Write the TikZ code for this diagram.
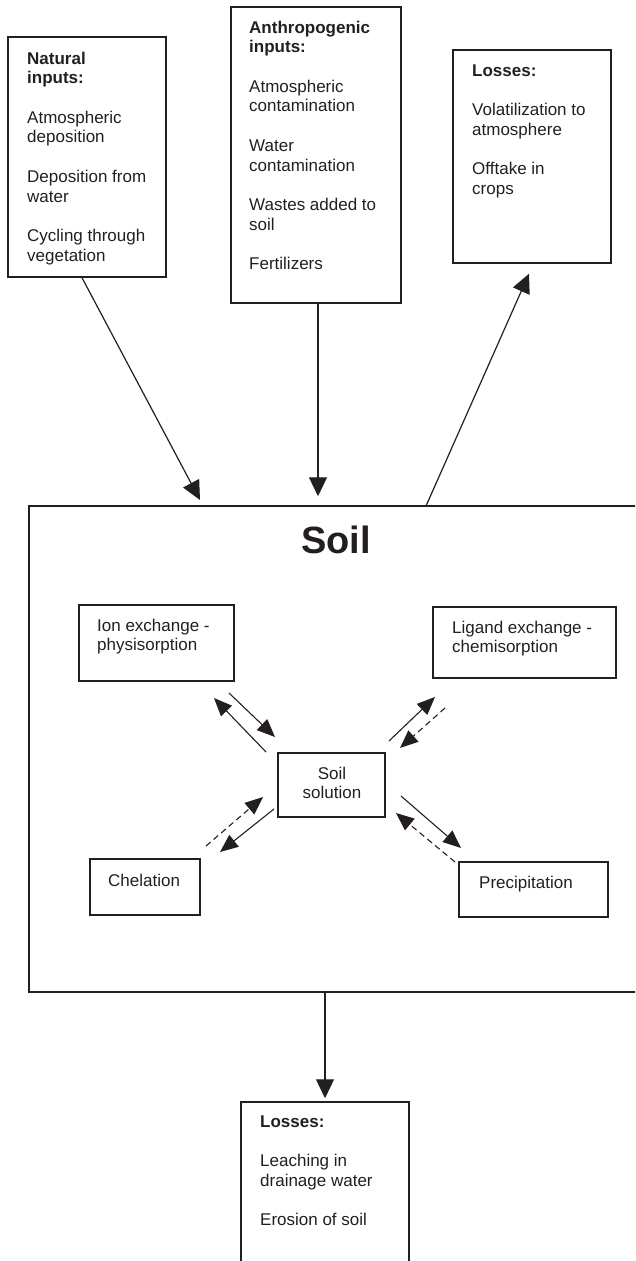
\documentclass[tikz,border=0pt]{standalone}
\usepackage{fontspec}
\setmainfont{Liberation Sans}
\usetikzlibrary{arrows.meta,calc}
\definecolor{ink}{RGB}{35,31,32}
% one typeset line, a blank line between entries, and a block whose baseline is its first line
\newcommand\rowline[1]{\hbox{#1}}
\newcommand\parabreak{\vskip 20pt}
\newcommand\textblock[1]{\vtop{\fontsize{17}{19.6}\selectfont #1}}
\begin{document}
\begin{tikzpicture}[x=1pt,y=-1pt,
  panel/.style={draw=ink, line width=1.5pt, rectangle, inner sep=0pt},
  boxtext/.style={anchor=base west, inner sep=0pt, text=ink},
  flow/.style={draw=ink, line width=1.2pt, -{Triangle[length=19pt,width=18pt]}},
  exch/.style={draw=ink, line width=1.1pt, -{Triangle[length=18pt,width=15pt]}},
  exchback/.style={exch, dash pattern=on 6pt off 4pt},
]
\useasboundingbox (0,0) rectangle (635,1261);
\clip (0,0) rectangle (635,1261);

% ---- outer boxes ----
\node[panel, minimum width=158pt, minimum height=240pt] (nat)   at (87,157)    {};
\node[panel, minimum width=170pt, minimum height=296pt] (ant)   at (316,155)   {};
\node[panel, minimum width=158pt, minimum height=213pt] (lossT) at (532,156.5) {};
\node[panel, minimum width=631pt, minimum height=486pt] (soil)  at (344.5,749) {};
\node[panel, minimum width=168pt, minimum height=173pt] (lossB) at (325,1188.5) {};

% ---- boxes inside the soil ----
\node[panel, minimum width=155pt, minimum height=76pt] (ion)  at (156.5,643) {};
\node[panel, minimum width=183pt, minimum height=71pt] (lig)  at (524.5,642.5) {};
\node[panel, minimum width=107pt, minimum height=64pt] (sol)  at (331.5,785) {};
\node[panel, minimum width=110pt, minimum height=56pt] (chel) at (145,887) {};
\node[panel, minimum width=149pt, minimum height=55pt] (prec) at (533.5,889.5) {};

% ---- texts ----
\node[boxtext] (natT) at (27,64) {\textblock{%
  \rowline{\bfseries Natural}\rowline{\bfseries inputs:}\parabreak
  \rowline{Atmospheric}\rowline{deposition}\parabreak
  \rowline{Deposition from}\rowline{water}\parabreak
  \rowline{Cycling through}\rowline{vegetation}}};
\node[boxtext] (antT) at (249,33) {\textblock{%
  \rowline{\bfseries Anthropogenic}\rowline{\bfseries inputs:}\parabreak
  \rowline{Atmospheric}\rowline{contamination}\parabreak
  \rowline{Water}\rowline{contamination}\parabreak
  \rowline{Wastes added to}\rowline{soil}\parabreak
  \rowline{Fertilizers}}};
\node[boxtext] (lossTT) at (472,76) {\textblock{%
  \rowline{\bfseries Losses:}\parabreak
  \rowline{Volatilization to}\rowline{atmosphere}\parabreak
  \rowline{Offtake in}\rowline{crops}}};
\node[boxtext] (lossBT) at (260,1127) {\textblock{%
  \rowline{\bfseries Losses:}\parabreak
  \rowline{Leaching in}\rowline{drainage water}\parabreak
  \rowline{Erosion of soil}}};

\node[anchor=base, inner sep=0pt, text=ink, font=\fontsize{38}{40}\selectfont\bfseries] (soilT) at (336,553) {Soil};

\node[boxtext] (ionT)  at (97,631)  {\textblock{\rowline{Ion exchange -}\rowline{physisorption}}};
\node[boxtext] (ligT)  at (452,633) {\textblock{\rowline{Ligand exchange -}\rowline{chemisorption}}};
\node[anchor=base, inner sep=0pt, text=ink] (solT) at (332,779)
  {\vtop{\fontsize{17}{19.6}\selectfont\halign{\hfil#\hfil\cr Soil\cr solution\cr}}};
\node[boxtext] (chelT) at (108,886) {\textblock{\rowline{Chelation}}};
\node[boxtext] (precT) at (479,888) {\textblock{\rowline{Precipitation}}};

% ---- fluxes into and out of the soil ----
\coordinate (natTip) at (200,500);
\coordinate (volStart) at (426,506);
\draw[flow] ([xshift=-5pt]nat.south) -- (natTip);
\draw[flow] ([xshift=2pt]ant.south) -- ($([xshift=2pt]ant.south |- soil.north)+(0,-9)$);
\draw[flow] (volStart) -- ($(lossT.south)+(-3,10)$);
\draw[flow] (soil.south -| lossB.north) -- ($(lossB.north)+(0,-3)$);

% ---- exchanges with the soil solution ----
\coordinate (ulA1) at (266,752); \coordinate (ulA2) at (214,698);
\coordinate (ulB1) at (229,693); \coordinate (ulB2) at (275,737);
\coordinate (urA1) at (389,741); \coordinate (urA2) at (435,697);
\coordinate (urB1) at (445,708); \coordinate (urB2) at (400,748);
\coordinate (llA1) at (206,846); \coordinate (llA2) at (263,797);
\coordinate (llB1) at (274,809); \coordinate (llB2) at (220,852);
\coordinate (lrA1) at (401,796); \coordinate (lrA2) at (461,848);
\coordinate (lrB1) at (455,862); \coordinate (lrB2) at (396,813);

\draw[exch] (ulA1) -- (ulA2);
\draw[exch] (ulB1) -- (ulB2);
\draw[exch] (urA1) -- (urA2);
\draw[exchback] (urB1) -- (urB2);
\draw[exchback] (llA1) -- (llA2);
\draw[exch] (llB1) -- (llB2);
\draw[exch] (lrA1) -- (lrA2);
\draw[exchback] (lrB1) -- (lrB2);
\end{tikzpicture}
\end{document}
